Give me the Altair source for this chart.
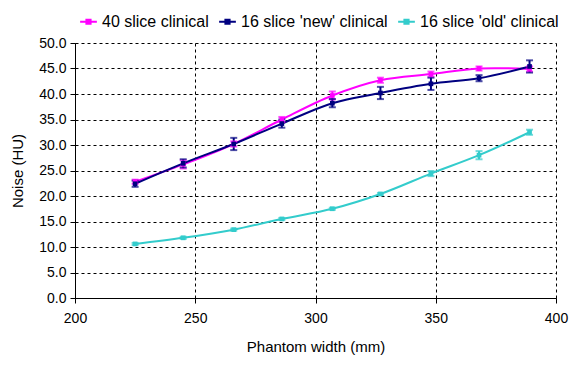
import altair as alt
import pandas as pd

widths = [225, 245, 266, 286, 307, 327, 348, 368, 389]
series_names = ["40 slice clinical", "16 slice 'new' clinical", "16 slice 'old' clinical"]
s40 = [22.8, 26.2, 30.2, 35.0, 39.7, 42.7, 43.9, 45.0, 44.9]
s40_err = [0.4, 0.8, 0.5, 0.5, 0.8, 0.5, 0.5, 0.4, 0.5]
snew = [22.4, 26.4, 30.2, 34.2, 38.2, 40.2, 42.0, 43.1, 45.4]
snew_err = [0.6, 0.8, 1.2, 0.8, 0.8, 1.2, 1.2, 0.6, 1.2]
sold = [10.6, 11.8, 13.4, 15.5, 17.5, 20.4, 24.4, 28.0, 32.5]
sold_err = [0.2, 0.2, 0.2, 0.2, 0.2, 0.2, 0.5, 0.8, 0.5]
colors = ["#FF00FF", "#000080", "#33CCCC"]
x_ticks = [200, 250, 300, 350, 400]
y_ticks = [0, 5, 10, 15, 20, 25, 30, 35, 40, 45, 50]

rows = []
for name, vals, errs in zip(series_names, [s40, snew, sold], [s40_err, snew_err, sold_err]):
    for w, v, e in zip(widths, vals, errs):
        rows.append({"series": name, "width": w, "noise": v, "lo": v - e, "hi": v + e})
df = pd.DataFrame(rows)

scale_c = alt.Scale(domain=series_names, range=colors)
color = alt.Color("series:N", scale=scale_c,
                  legend=alt.Legend(title=None, orient="none", direction="horizontal",
                                    legendX=4, legendY=-31,
                                    symbolType="M-1,0L1,0M-0.25,-0.25L0.25,-0.25L0.25,0.25L-0.25,0.25Z",
                                    symbolSize=280, symbolStrokeWidth=2,
                                    labelFontSize=16, labelFont="Liberation Sans",
                                    labelColor="black", columnPadding=6, labelOffset=4,
                                    labelLimit=300))
color_nl = alt.Color("series:N", scale=scale_c, legend=None)

xaxis = alt.Axis(values=x_ticks, title="Phantom width (mm)")
yaxis = alt.Axis(values=y_ticks, format=".1f", title="Noise (HU)")
xs = alt.Scale(domain=[200, 400], nice=False)
ys = alt.Scale(domain=[0, 50], nice=False)

def X(f):
    return alt.X(f, scale=xs, axis=xaxis)

def Y(f):
    return alt.Y(f, scale=ys, axis=yaxis)

base = alt.Chart(df)
line = base.mark_line(strokeWidth=2, interpolate="catmull-rom").encode(
    x=X("width:Q"), y=Y("noise:Q"), color=color, order=alt.Order("width:Q"))
pts = base.mark_point(shape="square", filled=True, size=22, opacity=1).encode(
    x=X("width:Q"), y=Y("noise:Q"), color=color)
rule = base.mark_rule(strokeWidth=2).encode(
    x=X("width:Q"), y=Y("lo:Q"), y2="hi:Q", color=color_nl)
cap_lo = base.mark_tick(orient="horizontal", size=7, thickness=2).encode(
    x=X("width:Q"), y=Y("lo:Q"), color=color_nl)
cap_hi = base.mark_tick(orient="horizontal", size=7, thickness=2).encode(
    x=X("width:Q"), y=Y("hi:Q"), color=color_nl)

chart = alt.layer(line, rule, cap_lo, cap_hi, pts).properties(
    width=481, height=255,
    background="white",
    autosize=alt.AutoSizeParams(type="none"),
    padding={"left": 67, "top": 35, "right": 19, "bottom": 59},
).configure_view(stroke=None).configure_axis(
    grid=True, gridColor="black", gridDash=[3, 3], gridWidth=1, gridOpacity=1,
    domainColor="black", domainWidth=1, tickColor="black", tickSize=5, tickWidth=1,
    labelColor="black", labelFont="Liberation Sans", labelFontSize=14,
    titleFont="Liberation Sans", titleFontSize=15, titleFontWeight="normal", titleColor="black",
    labelOverlap=False, labelFlush=False,
).configure_axisY(labelPadding=4, titlePadding=13).configure_axisX(labelPadding=8, titlePadding=14)

chart.save("out.html", embed_options={"renderer": "svg", "actions": False})
